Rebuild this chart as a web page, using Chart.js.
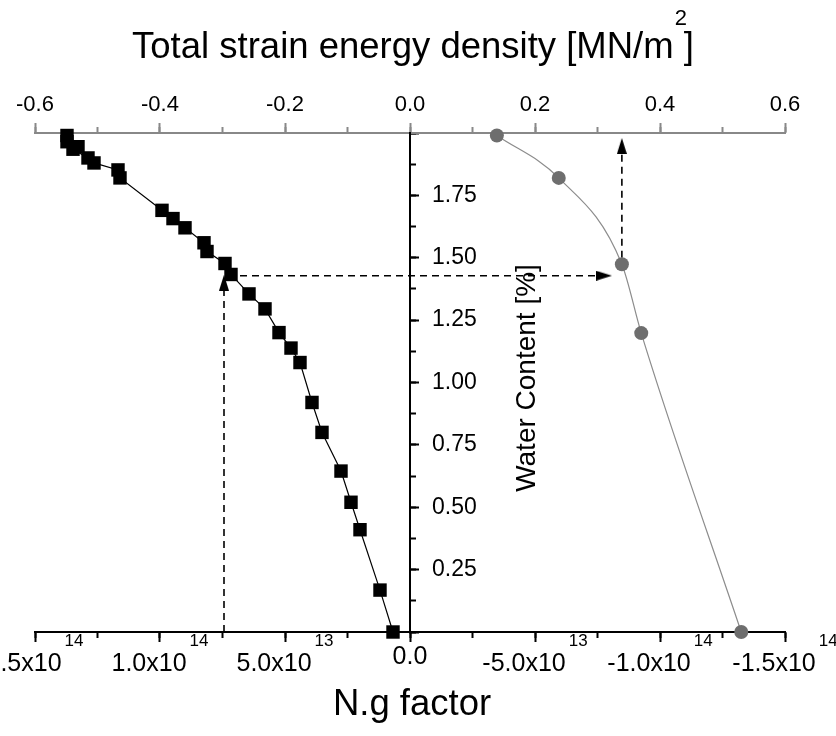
<!DOCTYPE html>
<html>
<head>
<meta charset="utf-8">
<title>Water content vs N.g factor and strain energy density</title>
<script src="https://cdn.jsdelivr.net/npm/chart.js@4.4.1/dist/chart.umd.min.js"></script>
<style>
  body { margin: 0; background: #fff; }
  canvas { display: block; }
</style>
</head>
<body>
<canvas id="ng-chart" width="836" height="736"></canvas>
<script>
// black squares: N.g factor (bottom axis) against water content
const ngFactor = [1.372e14, 1.372e14, 1.328e14, 1.348e14, 1.288e14, 1.264e14, 1.168e14, 1.160e14,
  0.992e14, 0.948e14, 0.900e14, 0.824e14, 0.812e14, 0.740e14, 0.716e14, 0.644e14, 0.580e14,
  0.524e14, 0.476e14, 0.440e14, 0.392e14, 0.352e14, 0.276e14, 0.236e14, 0.200e14, 0.120e14, 0.068e14];
const ngWater = [1.99, 1.965, 1.945, 1.935, 1.90, 1.88, 1.852, 1.82,
  1.69, 1.657, 1.62, 1.56, 1.525, 1.477, 1.433, 1.355, 1.295,
  1.20, 1.138, 1.08, 0.92, 0.80, 0.645, 0.52, 0.41, 0.168, 0.0];

// grey circles: total strain energy density (top axis) against water content
const energyDensity = [0.139, 0.238, 0.339, 0.370, 0.530];
const energyWater = [1.99, 1.82, 1.474, 1.198, 0.0];

// dashed guide arrows
const guideUpX = [7.44e13, 7.44e13];
const guideUpY = [0, 1.40];
const guideAcrossX = [6.8e13, -7.76e13];
const guideAcrossY = [1.428, 1.428];
const guideTopX = [0.339, 0.339];
const guideTopY = [1.50, 1.948];

// bottom axis tick labels (mantissa x10 with a raised power)
const bottomTickValues = [1.5e14, 1.0e14, 5.0e13, 0, -5.0e13, -1.0e14, -1.5e14];
const bottomTickText = ['1.5x10', '1.0x10', '5.0x10', '0.0', '-5.0x10', '-1.0x10', '-1.5x10'];
const bottomTickPower = ['14', '14', '13', '', '13', '14', '14'];

// water content tick labels
const waterTickValues = [0.25, 0.5, 0.75, 1.0, 1.25, 1.5, 1.75];
const waterTickText = ['0.25', '0.50', '0.75', '1.00', '1.25', '1.50', '1.75'];

const fontFamily = "'Liberation Sans', Arial, Helvetica, sans-serif";

function toPoints(xs, ys) {
  return xs.map((x, i) => ({x: x, y: ys[i]}));
}

// narrow arrow head used as point style, pointing up
function makeArrowHead() {
  const c = document.createElement('canvas');
  c.width = 10;
  c.height = 16;
  const g = c.getContext('2d');
  g.fillStyle = '#000';
  g.beginPath();
  g.moveTo(5, 0);
  g.lineTo(10, 16);
  g.lineTo(0, 16);
  g.closePath();
  g.fill();
  return c;
}
const arrowHead = makeArrowHead();

// axes take no room, chart area is set by the padding
function flatScale(s) {
  s.paddingLeft = 0;
  s.paddingRight = 0;
  s.paddingTop = 0;
  s.paddingBottom = 0;
  if (s.isHorizontal()) {
    s.height = 0;
  } else {
    s.width = 0;
  }
}

// top axis keeps the room above the plot so its labels are not clipped
function topScale(s) {
  flatScale(s);
  s.height = 133;
}

// titles, the water content labels and the bottom labels with powers of ten
const axisText = {
  id: 'axisText',
  afterDraw(chart) {
    const ctx = chart.ctx;
    const xs = chart.scales.x;
    const ys = chart.scales.y;
    ctx.save();
    ctx.fillStyle = '#000';
    ctx.textAlign = 'left';
    ctx.textBaseline = 'middle';
    bottomTickValues.forEach((v, i) => {
      const px = xs.getPixelForValue(v);
      ctx.font = '25px ' + fontFamily;
      const wm = ctx.measureText(bottomTickText[i]).width;
      ctx.font = '17px ' + fontFamily;
      const wp = bottomTickPower[i] ? ctx.measureText(bottomTickPower[i]).width + 3 : 0;
      const left = px - (wm + wp) / 2;
      ctx.font = '25px ' + fontFamily;
      ctx.fillText(bottomTickText[i], left, bottomTickPower[i] ? 664 : 657);
      if (bottomTickPower[i]) {
        ctx.font = '17px ' + fontFamily;
        ctx.fillText(bottomTickPower[i], left + wm + 3, 641);
      }
    });

    // water content labels right of the middle axis
    ctx.font = '23px ' + fontFamily;
    const axisX = xs.getPixelForValue(0);
    waterTickValues.forEach((v, i) => {
      ctx.fillText(waterTickText[i], axisX + 22, ys.getPixelForValue(v));
    });

    // top title with superscript 2
    ctx.textBaseline = 'alphabetic';
    ctx.font = '36.5px ' + fontFamily;
    const title = 'Total strain energy density [MN/m ]';
    const tw = ctx.measureText(title).width;
    const tLeft = 413 - tw / 2;
    ctx.fillText(title, tLeft, 58);
    const mEnd = tLeft + ctx.measureText('Total strain energy density [MN/m').width;
    ctx.font = '22px ' + fontFamily;
    ctx.fillText('2', mEnd + 1, 25);

    // bottom title
    ctx.font = '36.5px ' + fontFamily;
    ctx.textAlign = 'center';
    ctx.fillText('N.g factor', 412, 715);

    // water content title, turned
    ctx.translate(527, 378);
    ctx.rotate(-Math.PI / 2);
    ctx.font = '28px ' + fontFamily;
    ctx.textBaseline = 'middle';
    ctx.fillText('Water Content [%]', 0, 0);
    ctx.restore();
  }
};

const guideStyle = {
  type: 'scatter',
  showLine: true,
  borderColor: '#000',
  borderWidth: 1.6,
  borderDash: [7, 5],
  pointStyle: arrowHead,
  pointRadius: [0, 5],
  pointHoverRadius: 0,
  clip: false
};

let ngChart = new Chart(
  document.getElementById('ng-chart'), {
    type: 'scatter',
    data: {
      datasets: [
        {
          label: 'N.g factor',
          data: toPoints(ngFactor, ngWater),
          xAxisID: 'x',
          yAxisID: 'y',
          showLine: true,
          borderColor: '#000',
          borderWidth: 1.2,
          backgroundColor: '#000',
          pointStyle: 'rect',
          pointRadius: 9.5,
          pointBorderWidth: 0,
          clip: false
        },
        {
          label: 'Total strain energy density',
          data: toPoints(energyDensity, energyWater),
          xAxisID: 'xTop',
          yAxisID: 'y',
          showLine: true,
          cubicInterpolationMode: 'monotone',
          borderColor: '#8c8c8c',
          borderWidth: 1.2,
          backgroundColor: '#6e6e6e',
          pointRadius: 7,
          pointBorderWidth: 0,
          clip: false
        },
        Object.assign({data: toPoints(guideUpX, guideUpY), xAxisID: 'x', yAxisID: 'y', pointRotation: 0}, guideStyle),
        Object.assign({data: toPoints(guideAcrossX, guideAcrossY), xAxisID: 'x', yAxisID: 'y', pointRotation: 90}, guideStyle),
        Object.assign({data: toPoints(guideTopX, guideTopY), xAxisID: 'xTop', yAxisID: 'y', pointRotation: 0}, guideStyle)
      ]
    },
    options: {
      responsive: false,
      animation: false,
      layout: {padding: {left: 35, right: 51, top: 0, bottom: 104}},
      plugins: {legend: {display: false}, tooltip: {enabled: false}},
      scales: {
        x: {
          type: 'linear', axis: 'x', position: 'bottom', reverse: true,
          min: -1.5e14, max: 1.5e14,
          ticks: {display: false, stepSize: 5e13},
          grid: {drawOnChartArea: false, color: '#000', tickLength: 10, tickWidth: 2},
          border: {color: '#000', width: 2},
          afterFit: flatScale
        },
        xMinor: {
          type: 'linear', axis: 'x', position: 'bottom', reverse: true,
          min: -1.5e14, max: 1.5e14,
          ticks: {display: false, stepSize: 2.5e13},
          grid: {drawOnChartArea: false, color: '#000', tickLength: 6, tickWidth: 2},
          border: {display: false},
          afterFit: flatScale
        },
        xTop: {
          type: 'linear', axis: 'x', position: 'top', weight: 1,
          min: -0.6, max: 0.6,
          ticks: {
            stepSize: 0.2, padding: 5, color: '#000',
            font: {size: 22, family: fontFamily},
            callback: (v) => v.toFixed(1)
          },
          grid: {drawOnChartArea: false, color: '#888', tickLength: 10, tickWidth: 2},
          border: {color: '#888', width: 2},
          afterFit: topScale
        },
        xTopMinor: {
          type: 'linear', axis: 'x', position: 'top', weight: 0,
          min: -0.6, max: 0.6,
          ticks: {display: false, stepSize: 0.1},
          grid: {drawOnChartArea: false, color: '#888', tickLength: 6, tickWidth: 2},
          border: {display: false},
          afterFit: flatScale
        },
        y: {
          type: 'linear', axis: 'y', position: {x: 0},
          min: 0, max: 2,
          ticks: {display: false, stepSize: 0.25},
          grid: {drawOnChartArea: false, color: '#000', tickLength: -10, tickWidth: 2},
          border: {color: '#000', width: 2},
          afterFit: flatScale
        },
        yMinor: {
          type: 'linear', axis: 'y', position: {x: 0},
          min: 0, max: 2,
          ticks: {display: false, stepSize: 0.125},
          grid: {drawOnChartArea: false, color: '#000', tickLength: -6, tickWidth: 2},
          border: {display: false},
          afterFit: flatScale
        }
      }
    },
    plugins: [axisText]
  }
);
</script>
</body>
</html>
